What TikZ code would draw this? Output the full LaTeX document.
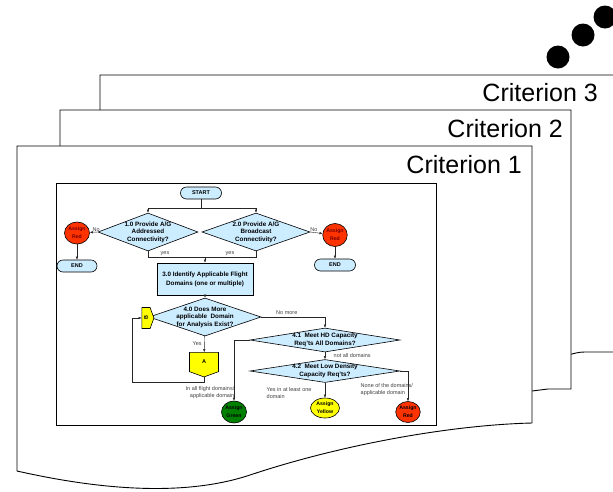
\documentclass[tikz,border=0pt]{standalone}
\usepackage{fontspec}
\setmainfont{Liberation Sans}
\usetikzlibrary{shapes.geometric,shapes.symbols,arrows.meta}
\definecolor{flowblue}{HTML}{CCECFF}
\definecolor{flowred}{HTML}{FF3300}
\definecolor{flowgreen}{HTML}{008000}
\definecolor{flowyellow}{HTML}{FFFF00}
\begin{document}
\begin{tikzpicture}[x=1pt,y=-1pt]
\tikzstyle{page}=[draw,line width=0.9pt,fill=white]
\tikzstyle{crit}=[anchor=base east,inner sep=0pt,font=\fontsize{25}{25}\selectfont]
\tikzstyle{dot}=[fill,shape=circle,minimum size=23pt,inner sep=0pt]
\tikzstyle{dia}=[draw,shape=diamond,fill=flowblue,inner sep=0pt,line width=0.6pt]
\tikzstyle{dtext}=[align=center,inner sep=0pt,font=\fontsize{6.3}{7.5}\selectfont\bfseries]
\tikzstyle{term}=[draw,rounded corners=6pt,fill=flowblue,minimum width=41pt,minimum height=12pt,inner sep=0pt,line width=0.6pt,font=\fontsize{5.5}{6.5}\selectfont\bfseries]
\tikzstyle{proc}=[draw,fill=flowblue,minimum width=96pt,minimum height=32pt,inner sep=0pt,align=center,line width=0.8pt,font=\fontsize{6.3}{9}\selectfont\bfseries]
\tikzstyle{result}=[draw,shape=ellipse,minimum width=25pt,minimum height=22pt,inner sep=0pt,align=center,line width=0.6pt,font=\fontsize{5.2}{8}\selectfont\bfseries]
\tikzstyle{conn}=[draw,shape=signal,fill=flowyellow,signal pointer angle=140,inner sep=0pt,line width=0.6pt,font=\fontsize{5.5}{6.5}\selectfont\bfseries]
\tikzstyle{flow}=[-{Latex[length=3pt,width=2.5pt]},line width=0.4pt,draw=black!85]
\tikzstyle{note}=[inner sep=0.5pt,text=black!75,font=\fontsize{5.5}{7}\selectfont]

\useasboundingbox (0,0) rectangle (613,491);
\clip (0,0) rectangle (613,491);

\draw[page] (100,75) -- (620,75) -- (620,352) -- (590,352) .. controls (580,352) .. (572,354) -- (560,356) -- (100,370) -- cycle;
\draw[page] (60,110) -- (571,110) -- (571,389) -- (548,389) -- (532,391) -- (60,420) -- cycle;
\draw[page] (17,146) -- (532,146) -- (532,423) .. controls (450,425) and (340,445) .. (250,475) .. controls (190,495) and (110,492) .. (17,471) -- cycle;

\path (598,101) node[crit](crit3){Criterion 3} (563,137) node[crit](crit2){Criterion 2} (522,173) node[crit](crit1){Criterion 1};
\path (558,57) node[dot](dot1){} (583,35) node[dot](dot2){} (605,17) node[dot](dot3){};

\draw[line width=0.8pt] (56,183) rectangle (436,425);

\path (201,193) node[term](start){START};
\path (148,232) node[dia,minimum width=100pt,minimum height=38pt,label={[dtext]center:1.0 Provide A/G\\Addressed\\Connectivity?}](q1){}
      (256,232) node[dia,minimum width=108pt,minimum height=38pt,label={[dtext]center:2.0 Provide A/G\\Broadcast\\Connectivity?}](q2){};
\path (77,233) node[result,fill=flowred,text=red!45!black](red1){Assign\\Red}
      (335,235) node[result,fill=flowred,text=red!45!black,minimum width=24pt,minimum height=23pt](red2){Assign\\Red};
\path (77,266) node[term,minimum width=40pt](end1){END} (335,265) node[term](end2){END};
\path (205,279) node[proc](p3){3.0 Identify Applicable Flight\\Domains (one or multiple)};
\path (205,317) node[dia,minimum width=112pt,minimum height=38pt,label={[dtext]center:4.0 Does More\\applicable\ \ Domain\\for Analysis Exist?}](q4){};
\path (146,318) node[conn,signal to=east,minimum width=12pt,minimum height=21pt](conB){\rotatebox{90}{B}}
      (204,362) node[conn,signal to=south,minimum width=29pt,minimum height=20pt](conA){A};
\path (325,340) node[dia,minimum width=150pt,minimum height=24pt,label={[dtext]center:4.1\ \ Meet HD Capacity\\Req'ts All Domains?}](q41){}
      (325,371) node[dia,minimum width=150pt,minimum height=23pt,label={[dtext]center:4.2\ \ Meet Low Density\\Capacity Req'ts?}](q42){};
\path (234,412) node[result,fill=flowgreen](green){Assign\\Green}
      (325,408) node[result,fill=flowyellow,minimum width=29pt,minimum height=20pt](yellow){Assign\\Yellow}
      (408,412) node[result,fill=flowred,minimum width=24pt,minimum height=21pt](red3){Assign\\Red};

\coordinate (split) at (201,208);
\coordinate (merge) at (205,257);
\coordinate (loop) at (132,382);
\draw[flow,-] (start) -- (split);
\draw[flow] (split) -| (q1.north);
\draw[flow] (split) -| (q2.north);
\draw[flow] (q1.west) -- node[note,pos=0.2,above]{No} (red1);
\draw[flow] (q2.east) -- node[note,pos=0.3,above]{No} (red2);
\draw[flow] (red1) -- (end1);
\draw[flow] (red2) -- (end2);
\draw[flow,-] (q1.south) |- (merge);
\draw[flow,-] (q2.south) |- (merge);
\path (165,254) node[note](yes1){yes} (230,254) node[note](yes2){yes};
\draw[flow] (merge) -- (p3.north);
\draw[flow] (p3) -- (q4);
\draw[flow] (q4) -- node[note,left=2pt]{Yes} (conA);
\draw[flow] (conA.south) |- (loop) |- (conB.west);
\draw[flow] (q4.east) -| node[note,pos=0.2,above=2pt]{No more} (q41.north);
\draw[flow] (q41) -- node[note,right=8pt]{not all domains} (q42);
\draw[flow] (q41.west) -| (green.north);
\draw[flow] (q42) -- (yellow);
\draw[flow] (q42.east) -| (red3.north);
\path (235,393) node[note,align=right,anchor=east](lblg){In all flight domains/\\applicable domain}
      (266,393) node[note,align=left,anchor=west](lbly){Yes in at least one\\domain}
      (360,390) node[note,align=left,anchor=west](lblr){None of the domains/\\applicable domain};
\end{tikzpicture}
\end{document}
